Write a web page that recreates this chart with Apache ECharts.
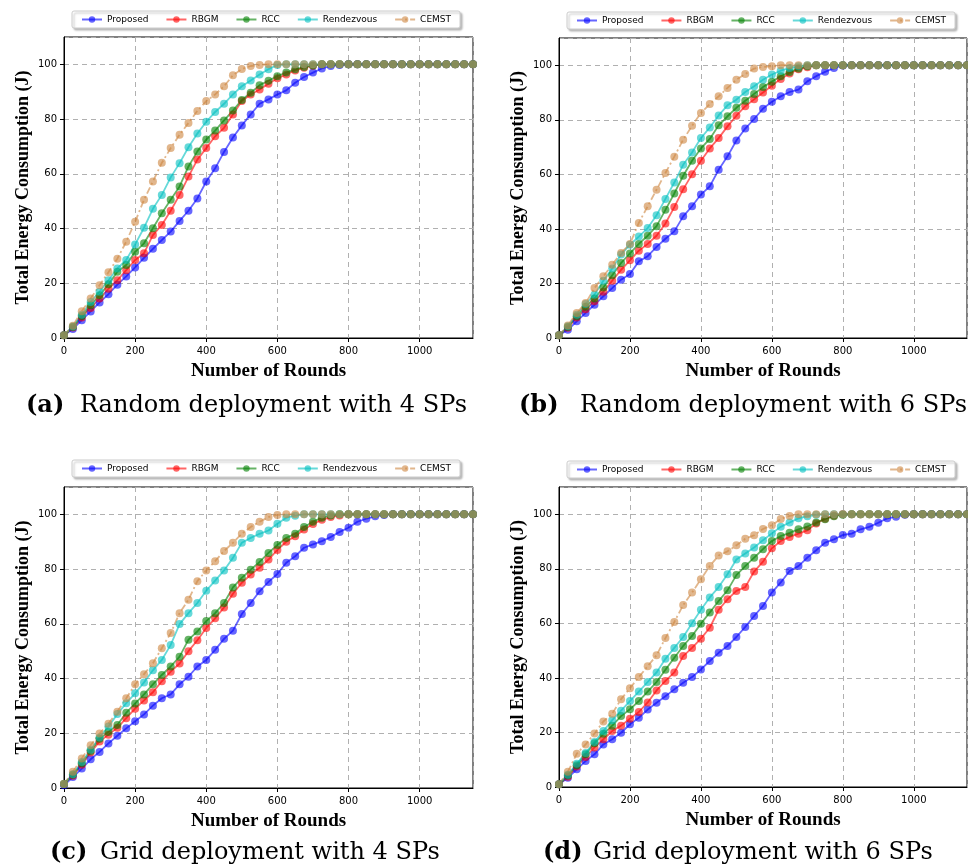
<!DOCTYPE html>
<html><head><meta charset="utf-8">
<script src="https://cdn.jsdelivr.net/npm/echarts@6/dist/echarts.min.js"></script>
<style>html,body{margin:0;padding:0;background:#fff}#c{width:968px;height:866px}</style>
</head><body><div id="c"></div>
<script>
const names = ['Proposed','RBGM','RCC','Rendezvous','CEMST'];
const xTicks = [0,200,400,600,800,1000];
const yTicks = [0,20,40,60,80,100];
const rounds = [0,25,50,75,100,125,150,175,200,225,250,275,300,325,350,375,400,425,450,475,500,525,550,575,600,625,650,675,700,725,750,775,800,825,850,875,900,925,950,975,1000,1025,1050,1075,1100,1125,1150];

const a_proposed = [1,3.3,6.5,9.7,13,16,19.5,22.5,25.8,29.3,32.6,35.8,38.9,42.8,46.5,51,57.2,62,68,73.3,77.7,81.7,85.6,87.2,89,90.5,93.3,95.4,97,98.5,99.4,99.8,100,100,100,100,100,100,100,100,100,100,100,100,100,100,100];
const a_rbgm = [1,3.8,7.5,11,14.4,18,21.1,24.8,28.5,31,37.6,41.3,46.5,52.3,59,65.2,69.4,73.7,76.8,81.7,86.6,89,90.8,92.9,94.9,96.3,97.8,98.8,99.5,100,100,100,100,100,100,100,100,100,100,100,100,100,100,100,100,100,100];
const a_rcc = [1,4,8,12,15.6,19.6,24.2,26.7,31.5,34.6,40.1,45.6,50.5,55.4,62.7,68.2,72.5,75.8,79.5,83.1,87,89.6,92.4,94,95.7,97,98.2,99,99.6,100,100,100,100,100,100,100,100,100,100,100,100,100,100,100,100,100,100];
const a_rendezvous = [1,4.2,8.5,13.2,16.9,21.1,25.4,28.5,34.2,40.3,47.2,52.3,58.7,63.9,69.7,74.7,79,82.6,85.6,89,92,94.1,96.3,98.2,99.8,100,100,100,100,100,100,100,100,100,100,100,100,100,100,100,100,100,100,100,100,100,100];
const a_cemst = [1,4.5,9.8,14.4,19.3,24,29,35.2,42.5,50.5,57.2,64,69.4,74.3,78.6,83,86.6,89,92,96,98.3,99.4,99.8,100,100,100,100,100,100,100,100,100,100,100,100,100,100,100,100,100,100,100,100,100,100,100,100];

const b_proposed = [1,3,6.1,9.2,12.2,15.3,18.3,21.4,23.5,28.1,30,33.4,36.4,39.1,44.6,48.3,52.6,55.6,61.7,66.6,72.4,76.8,80.3,84.1,86.6,88.6,90.2,91.1,94.1,96,97.6,99,99.9,100,100,100,100,100,100,100,100,100,100,100,100,100,100];
const b_rbgm = [1,3.8,7.5,10.5,13.5,17,21,25,28.5,32,34.5,37.5,42,48,54.5,60,65,69.5,73.3,77.6,81.5,85,87.5,90,92.5,95,97,98.5,99.3,100,100,100,100,100,100,100,100,100,100,100,100,100,100,100,100,100,100];
const b_rcc = [1,4,8,11.5,14.5,18.5,23,27.5,31,34.5,37.5,41,47,53,59.5,65,69.5,73,78,81.3,84.4,87,89.5,92,94,96,97.5,98.8,99.6,100,100,100,100,100,100,100,100,100,100,100,100,100,100,100,100,100,100];
const b_rendezvous = [1,4.3,8.5,12.5,15.9,21,25.5,30.6,34.2,37.2,40.3,45,51,57,63.5,68,73.3,77.2,81.6,85.3,87.4,90.2,92.3,94.7,96.6,98,99,99.6,100,100,100,100,100,100,100,100,100,100,100,100,100,100,100,100,100,100,100];
const b_cemst = [1,4.6,9.2,12.8,18.3,22.6,26.9,31.2,34.5,42.2,48.3,54.4,60.5,66.5,72.7,77.8,82.5,85.8,88.6,91.7,94.7,96.8,98.8,99.4,99.6,100,100,100,100,100,100,100,100,100,100,100,100,100,100,100,100,100,100,100,100,100,100];

const c_proposed = [1,4,7.1,10.5,13.2,16.3,19.1,21.8,24.4,26.9,30.1,32.8,34.2,37.9,40.7,44.4,46.8,50.5,54.5,57.5,63.6,67.6,71.9,75.3,78.2,82.3,84.7,87.8,89,90.2,91.7,93.6,95.1,97.3,98.4,99.3,99.8,100,100,100,100,100,100,100,100,100,100];
const c_rbgm = [1.5,4.5,8.5,13,17,19.5,22,25.5,29,32,35,39,42.5,45.5,50,54,58.5,62,66,71,75,78,80.5,83.5,87,90,92,94.5,96.5,98,99,99.6,100,100,100,100,100,100,100,100,100,100,100,100,100,100,100];
const c_rcc = [1.5,4.8,9,13.5,18,20.5,23,27.5,30.9,34.2,37.9,41.3,44.4,48,54.2,57.2,61,63.9,67.6,73.3,76.8,79.8,82.6,85.9,88.8,91.4,92.9,95.4,97.3,98.8,99.6,100,100,100,100,100,100,100,100,100,100,100,100,100,100,100,100];
const c_rendezvous = [1.5,5,9.5,14,18.5,22.5,27,31,34.6,38.6,43,46.8,52.3,59.9,63.9,67.6,72.1,75.8,79.5,84.1,89.6,91.4,92.9,94.1,96.6,98.8,99.5,100,100,100,100,100,100,100,100,100,100,100,100,100,100,100,100,100,100,100,100];
const c_cemst = [1.5,5.9,10.8,15.6,19.9,23.5,27.9,32.8,37.9,41.6,45.6,51.1,56.6,63.9,68.8,75.6,79.5,82.9,86.6,89.6,92.9,95.4,97.3,99,99.8,100,100,100,100,100,100,100,100,100,100,100,100,100,100,100,100,100,100,100,100,100,100];

const d_proposed = [1,3.4,6.5,9.5,12,15.6,17.5,19.9,23,25.4,28.4,30.9,33.3,35.8,38.2,40.3,43.1,46.2,49.2,51.7,55,58.7,62.7,66.4,71.3,75,79.2,81,84.1,86.8,89.6,90.8,92.4,92.9,94.5,95.4,96.9,98.5,99.1,99.8,100,100,100,100,100,100,100];
const d_rbgm = [1,3.8,7.5,11,14.5,17.5,20.5,22.5,25,27.5,31,35.4,38.9,42,48,51,54.4,58.4,65,68.8,71.9,73.3,79,82.6,87.5,90.2,91.7,92.9,94.1,96.6,98.4,99.5,100,100,100,100,100,100,100,100,100,100,100,100,100,100,100];
const d_rcc = [1,4.2,8,12,16,19.5,22.5,26,28.5,31.5,35,38.5,43,47.4,51.7,55.4,59.9,64,68.2,72.1,77.7,81,84.1,87.2,90.2,92,93.2,94.5,95.5,97,98.2,99.3,99.8,100,100,100,100,100,100,100,100,100,100,100,100,100,100];
const d_rendezvous = [1,4.5,8.5,12.5,16.5,20.5,24.5,28,31.5,35,38.5,42,47,51,55,60,65,69.5,73.3,78,83.4,85.6,87.8,90.5,93,95.4,97,98.5,99.3,99.8,100,100,100,100,100,100,100,100,100,100,100,100,100,100,100,100,100];
const d_cemst = [1,5.6,12.2,15.6,19.6,24,26.9,32.2,36.2,40.3,44.3,48.3,54.6,60.5,66.7,71.3,76.2,81,84.9,86.4,88.6,91,92.3,94.6,96,98.3,99.4,100,100,100,100,100,100,100,100,100,100,100,100,100,100,100,100,100,100,100,100];

const captionLabels = ['(a)','(b)','(c)','(d)'];
const captionTexts = ['Random deployment with 4 SPs','Random deployment with 6 SPs','Grid deployment with 4 SPs','Grid deployment with 6 SPs'];

const panelData = [
  [a_proposed,a_rbgm,a_rcc,a_rendezvous,a_cemst],
  [b_proposed,b_rbgm,b_rcc,b_rendezvous,b_cemst],
  [c_proposed,c_rbgm,c_rcc,c_rendezvous,c_cemst],
  [d_proposed,d_rbgm,d_rcc,d_rendezvous,d_cemst]
];
const colors = ['rgb(0,0,255)','rgb(255,0,0)','rgb(0,128,0)','rgb(0,191,191)','rgb(205,133,63)'];
const grids = [
  {left:64,top:37,width:409,height:301},
  {left:559,top:38,width:408,height:300},
  {left:64,top:487,width:409,height:301},
  {left:559,top:487,width:408,height:300}
];
const legendPos = [[72,11],[567,12],[72,460],[567,461]];
const capPos = [[26,80,406],[519,580,406],[50,100,853],[543,593,853]];

function pairs(vals){ return vals.map((v,i)=>[rounds[i], v]); }

const option = {
  animation:false,
  backgroundColor:'#fff',
  grid: grids.map(g=>Object.assign({show:true,borderColor:'#000',borderWidth:1,backgroundColor:'transparent'},g)),
  legend: legendPos.map(p=>({
    left:p[0], top:p[1], orient:'horizontal', data:names,
    itemWidth:20, itemHeight:8, itemGap:17, padding:[4,9],
    textStyle:{fontFamily:'DejaVu Sans',fontSize:9,color:'#000'},
    backgroundColor:'#fff', borderColor:'#cccccc', borderWidth:1, borderRadius:2,
    shadowBlur:2, shadowOffsetX:2, shadowOffsetY:2, shadowColor:'rgba(0,0,0,0.25)',
    selectedMode:false
  })),
  xAxis: grids.map((g,i)=>({
    type:'value', gridIndex:i, min:0, max:1150, interval:200,
    name:'Number of Rounds', nameLocation:'middle', nameGap:24,
    nameTextStyle:{fontFamily:'Liberation Serif',fontWeight:'bold',fontSize:19,color:'#000'},
    axisLine:{show:true,onZero:false,lineStyle:{color:'#000',width:1}},
    axisTick:{show:true,length:4,lineStyle:{color:'#000'}},
    axisLabel:{fontFamily:'DejaVu Sans',fontSize:10,color:'#000',margin:8,showMaxLabel:false,
      formatter:v=>xTicks.indexOf(v)>=0?String(v):''},
    splitLine:{show:true,lineStyle:{color:'#b0b0b0',width:1,type:[5,4]}}
  })),
  yAxis: grids.map((g,i)=>({
    type:'value', gridIndex:i, min:0, max:110, interval:20,
    name:'Total Energy Consumption (J)', nameLocation:'middle', nameGap:32, nameRotate:90,
    nameTextStyle:{fontFamily:'Liberation Serif',fontWeight:'bold',fontSize:18,color:'#000'},
    axisLine:{show:true,onZero:false,lineStyle:{color:'#000',width:1}},
    axisTick:{show:true,length:4,lineStyle:{color:'#000'}},
    axisLabel:{fontFamily:'DejaVu Sans',fontSize:10,color:'#000',margin:7,showMaxLabel:false,
      formatter:v=>yTicks.indexOf(v)>=0?String(v):''},
    splitLine:{show:true,lineStyle:{color:'#b0b0b0',width:1,type:[5,4]}}
  })),
  series: [],
  graphic: []
};

panelData.forEach((sets,i)=>{
  sets.forEach((vals,k)=>{
    option.series.push({
      type:'line', name:names[k], xAxisIndex:i, yAxisIndex:i,
      data:pairs(vals), symbol:'circle', symbolSize:8, showSymbol:true,
      color:colors[k],
      lineStyle:{color:colors[k],width:1.8,opacity:0.6,type:(k===4?[7,3,2,3]:'solid')},
      itemStyle:{color:colors[k],opacity:0.6},
      emphasis:{disabled:true}, clip:true
    });
  });
  const cp = capPos[i];
  option.graphic.push({type:'text', x:cp[0], y:cp[2], style:{text:captionLabels[i], fontFamily:'DejaVu Serif', fontWeight:'bold', fontSize:24, fill:'#000', textAlign:'left', textVerticalAlign:'middle'}});
  option.graphic.push({type:'text', x:cp[1], y:cp[2], style:{text:captionTexts[i], fontFamily:'DejaVu Serif', fontSize:24, fill:'#000', textAlign:'left', textVerticalAlign:'middle'}});
});

const chart = echarts.init(document.getElementById('c'), null, {renderer:'canvas'});
chart.setOption(option);
</script></body></html>
